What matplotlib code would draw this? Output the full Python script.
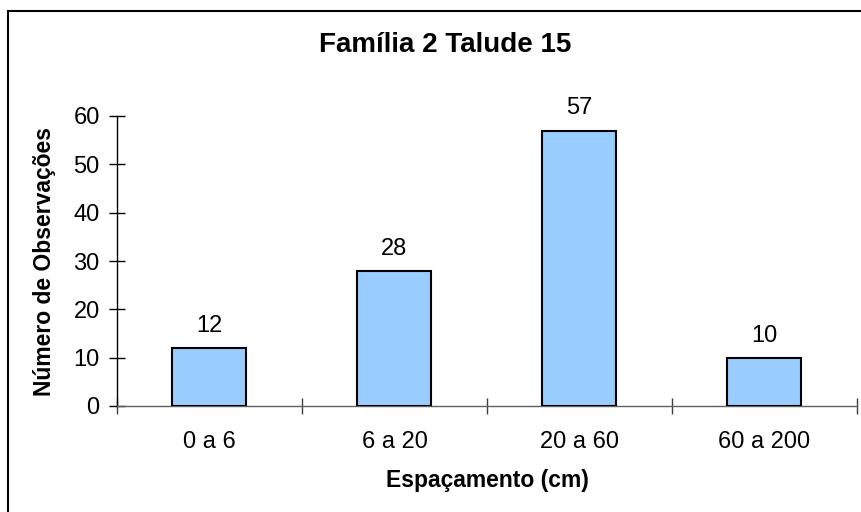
import matplotlib
matplotlib.use("Agg")
import matplotlib.pyplot as plt
from matplotlib.patches import Rectangle

plt.rcParams['font.family'] = ['Liberation Sans', 'DejaVu Sans']

categories = ["0 a 6", "6 a 20", "20 a 60", "60 a 200"]
values = [12, 28, 57, 10]
yticks = [0, 10, 20, 30, 40, 50, 60]

fig = plt.figure(figsize=(8.62, 5.12), dpi=100)
ax = fig.add_axes([117 / 862, 1 - 406 / 512, (857 - 117) / 862, (406 - 116) / 512])

x = list(range(len(categories)))
bars = ax.bar(x, values, width=0.4, color="#99CCFF", edgecolor="black", linewidth=1.5, zorder=3)

for xi, v in zip(x, values):
    ax.annotate(str(v), (xi, v), xytext=(0, 8), textcoords="offset points",
                ha="center", va="bottom", fontsize=17)

ax.set_xlim(-0.5, len(categories) - 0.5)
ax.set_ylim(0, 60)
ax.set_yticks(yticks)
ax.set_yticklabels([str(t) for t in yticks], fontsize=17)

ax.set_xticks(x)
ax.set_xticklabels(categories, fontsize=17)
ax.tick_params(axis="x", which="major", length=0, pad=18)
ax.set_xticks([i - 0.5 for i in range(len(categories) + 1)], minor=True)
ax.tick_params(axis="x", which="minor", length=11, direction="inout", color="#404040", width=1)
ax.tick_params(axis="y", length=11, direction="inout", width=1, pad=7)

for side in ("top", "right"):
    ax.spines[side].set_visible(False)
ax.spines["left"].set_color("black")
ax.spines["left"].set_linewidth(1)
ax.spines["bottom"].set_color("#606060")
ax.spines["bottom"].set_linewidth(1)

ax.set_xlabel("Espaçamento (cm)", fontsize=16.5, fontweight="bold")
ax.xaxis.label.set_verticalalignment("center")
ax.xaxis.set_label_coords(0.5, -(480 - 406) / 290)
ax.set_ylabel("Número de Observações", fontsize=16.5, fontweight="bold")
ax.yaxis.set_label_coords(-(117 - 45) / 740, 0.5)
ax.yaxis.label.set_verticalalignment("center")
fig.text(445 / 862, 1 - 45 / 512, "Família 2 Talude 15", ha="center", va="center",
         fontsize=20, fontweight="bold")

# outer frame around the chart area
fig.patches.append(Rectangle((8.5 / 862, -0.05), 1.2, 1.05 - 10.5 / 512,
                             transform=fig.transFigure, fill=False,
                             edgecolor="black", linewidth=1.5))

fig.savefig("out.png", dpi=100)
